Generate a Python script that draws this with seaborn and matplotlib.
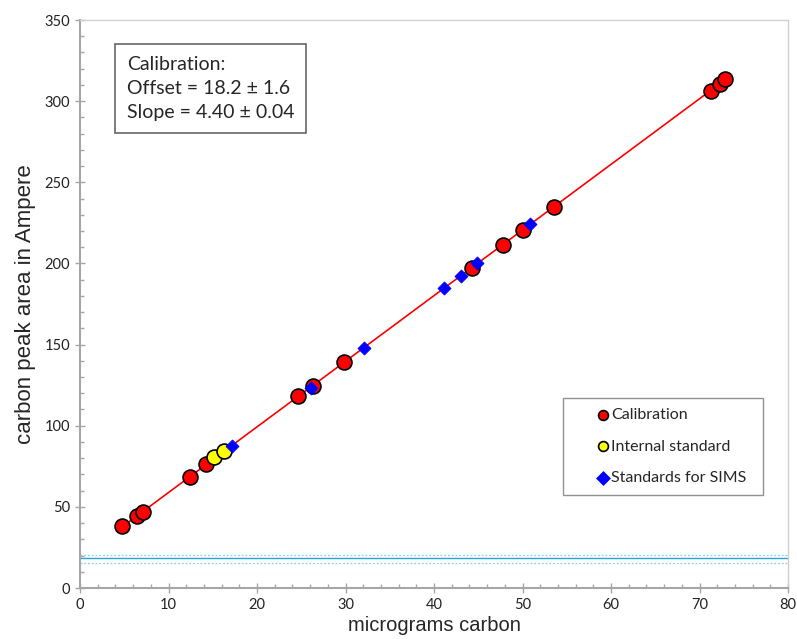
import numpy as np
import pandas as pd
import matplotlib
matplotlib.use("Agg")
import matplotlib.pyplot as plt
import seaborn as sns
from matplotlib.ticker import MultipleLocator

# ---- data ----
calib_x = [4.75, 6.44, 7.1, 12.4, 14.2, 24.6, 26.3, 29.8, 44.3, 47.8, 50.1, 53.6, 71.3, 72.3, 72.9]
calib_y = [38.2, 44.4, 46.8, 68.4, 76.4, 118.3, 124.5, 139.2, 197.2, 211.3, 220.6, 234.8, 306.2, 310.5, 313.6]
intstd_x = [15.1, 16.3]
intstd_y = [80.7, 84.4]
sims_x = [17.2, 26.1, 32.1, 41.1, 43.0, 44.9, 50.8]
sims_y = [87.5, 123.5, 147.8, 184.8, 192.0, 200.2, 224.5]
# fitted line as drawn in the chart
fit_x = [4.75, 72.9]
fit_y = [37.6, 313.2]
# offset band as drawn
band_center = 18.2
band_limits = [20.3, 15.4]
# annotation values
offset, offset_err = 18.2, 1.6
slope, slope_err = 4.40, 0.04

sns.set_theme(style="white")
plt.rcParams['font.family'] = ['Liberation Sans', 'DejaVu Sans']

fig = plt.figure(figsize=(7.97, 6.39), dpi=100)
ax = fig.add_axes([80/797, 51/639, 708/797, 568/639])

sns.lineplot(x=fit_x, y=fit_y, ax=ax, color="#ff0000", lw=1.2, zorder=2)

ax.axhline(band_center, color="#2aa3d8", lw=1.0, zorder=1)
for b in band_limits:
    ax.axhline(b, color="#8fd0ec", lw=0.9, ls=(0, (1.5, 1.5)), zorder=1)

df_c = pd.DataFrame({"x": calib_x, "y": calib_y})
df_i = pd.DataFrame({"x": intstd_x, "y": intstd_y})
df_s = pd.DataFrame({"x": sims_x, "y": sims_y})

sns.scatterplot(data=df_c, x="x", y="y", ax=ax, marker="o", s=115, color="#ff0000",
                edgecolor="black", linewidth=1.2, zorder=3, label="Calibration")
sns.scatterplot(data=df_i, x="x", y="y", ax=ax, marker="o", s=115, color="#ffff00",
                edgecolor="black", linewidth=1.2, zorder=3, label="Internal standard")
sns.scatterplot(data=df_s, x="x", y="y", ax=ax, marker="D", s=45, color="#0000ff",
                edgecolor="#0000ff", linewidth=0.5, zorder=4, label="Standards for SIMS")

ax.set_xlim(0, 80)
ax.set_ylim(0, 350)
ax.xaxis.set_major_locator(MultipleLocator(10))
ax.xaxis.set_minor_locator(MultipleLocator(2))
ax.yaxis.set_major_locator(MultipleLocator(50))
ax.yaxis.set_minor_locator(MultipleLocator(10))
ax.tick_params(which="major", direction="inout", length=7, width=1, color="#a6a6a6",
               labelsize=10.5, labelcolor="#222222", bottom=True, left=True)
ax.tick_params(which="minor", direction="in", length=3, width=1, color="#a6a6a6",
               bottom=True, left=True)
for lab in ax.get_xticklabels() + ax.get_yticklabels():
    lab.set_family(['Lato', 'DejaVu Sans'])

for side in ["left", "bottom"]:
    ax.spines[side].set_color("#a6a6a6")
    ax.spines[side].set_linewidth(1.5)
for side in ["top", "right"]:
    ax.spines[side].set_color("#d0d0d0")
    ax.spines[side].set_linewidth(1.0)

ax.set_xlabel("micrograms carbon", fontsize=14.5, labelpad=3)
ax.set_ylabel("carbon peak area in Ampere", fontsize=16, labelpad=6)

txt = (f"Calibration:\nOffset = {offset:.1f} \u00b1 {offset_err:.1f}\n"
       f"Slope = {slope:.2f} \u00b1 {slope_err:.2f}")
ax.text((127-80)/708, (588-56)/568, txt, transform=ax.transAxes, ha="left", va="top",
        fontsize=14, family=['Lato', 'DejaVu Sans'], linespacing=1.5,
        bbox=dict(boxstyle="square,pad=0.6", facecolor="white", edgecolor="#666666", lw=1.2))

leg = ax.legend(loc="upper left", bbox_to_anchor=(483/708, (588-398)/568, 200/708, 0.0),
                mode="expand", frameon=True,
                fancybox=False, edgecolor="#777777", fontsize=11.5, handletextpad=-1.4,
                labelspacing=1.1, borderpad=0.6, handlelength=3.8, borderaxespad=0)
for t in leg.get_texts():
    t.set_family(['Lato', 'DejaVu Sans'])
for h in leg.legend_handles:
    h.set_sizes([50])
leg.get_frame().set_linewidth(1.0)

fig.savefig("out.png", dpi=100)
